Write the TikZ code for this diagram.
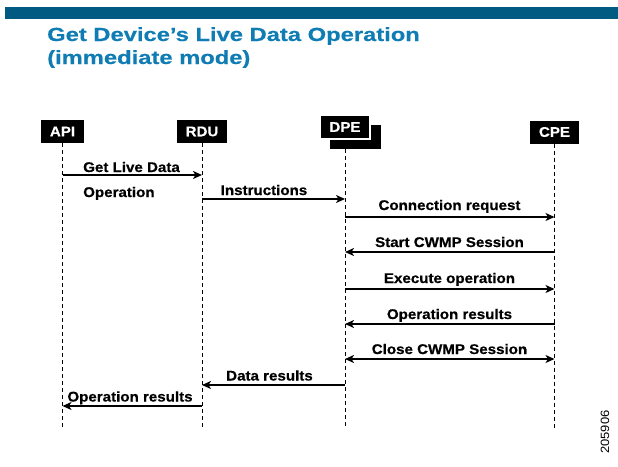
\documentclass[tikz,border=0pt]{standalone}
\usepackage{fontspec}
\setmainfont{Liberation Sans}[FakeStretch=1.08,BoldFeatures={FakeBold=0.5}]
\newfontfamily\titlefont{Liberation Sans}[FakeStretch=1.25,BoldFeatures={FakeBold=0.4}]
\usetikzlibrary{arrows.meta}
\definecolor{barblue}{RGB}{0,90,130}
\definecolor{titleblue}{RGB}{16,124,180}
\begin{document}
\begin{tikzpicture}[x=1pt,y=-1pt,
  actor/.style={fill=black,text=white,font=\bfseries\fontsize{14}{14}\selectfont,inner sep=0pt,minimum width=#1,minimum height=23pt},
  lifeline/.style={dash pattern=on 4pt off 3pt,line width=0.9pt},
  msg/.style={-{Stealth[length=9pt,width=8pt,inset=2.5pt]},line width=1.5pt},
  dmsg/.style={{Stealth[length=9pt,width=8pt,inset=2.5pt]}-{Stealth[length=9pt,width=8pt,inset=2.5pt]},line width=1.5pt},
  lbl/.style={font=\bfseries\fontsize{14}{14}\selectfont,anchor=base,inner sep=0pt},
  ttl/.style={font=\titlefont\bfseries\fontsize{19}{19}\selectfont,text=titleblue,anchor=base west,inner sep=0pt}]
\useasboundingbox (0,0) rectangle (618,466);
\fill[barblue] (5,6.5) rectangle (618,18.5);
\node[ttl] (t1) at (47,41) {Get Device’s Live Data Operation};
\node[ttl] (t2) at (47,64) {(immediate mode)};
% actors
\node[actor=43pt] (api) at (62.5,131.5) {API};
\node[actor=50pt] (rdu) at (202,131.5) {RDU};
\node[actor=51pt,minimum height=24pt] (dpeb) at (355.5,137) {};
\node[actor=50pt,minimum height=24pt,draw=white,line width=1.2pt] (dpe) at (345,127) {DPE};
\node[actor=49pt] (cpe) at (554.5,132) {CPE};
% lifelines
\coordinate (bot) at (0,428);
\draw[lifeline] (api.south) -- (api |- bot);
\draw[lifeline] (rdu.south) -- (rdu |- bot);
\draw[lifeline] (dpeb.south -| dpe) -- (dpe |- bot);
\draw[lifeline] (cpe.south) -- (cpe |- bot);
% message rows
\coordinate (m1) at (0,175);
\coordinate (m2) at (0,199);
\coordinate (m3) at (0,217);
\coordinate (m4) at (0,252);
\coordinate (m5) at (0,289);
\coordinate (m6) at (0,324);
\coordinate (m7) at (0,359);
\coordinate (m8) at (0,385);
\coordinate (m9) at (0,406);
\draw[msg] (api |- m1) -- (rdu |- m1);
\draw[msg] (rdu |- m2) -- (dpe |- m2);
\draw[msg] (dpe |- m3) -- (cpe |- m3);
\draw[msg] (cpe |- m4) -- (dpe |- m4);
\draw[msg] (dpe |- m5) -- (cpe |- m5);
\draw[msg] (cpe |- m6) -- (dpe |- m6);
\draw[dmsg] (dpe |- m7) -- (cpe |- m7);
\draw[msg] (dpe |- m8) -- (rdu |- m8);
\draw[msg] (rdu |- m9) -- (api |- m9);
% labels
\node[lbl,anchor=base west] (l1a) at (83,172) {Get Live Data};
\node[lbl,anchor=base west] (l1b) at (83,197) {Operation};
\node[lbl] (l2) at (264,195) {Instructions};
\node[lbl] (l3) at (449.5,210) {Connection request};
\node[lbl] (l4) at (449.5,247) {Start CWMP Session};
\node[lbl] (l5) at (449.5,283) {Execute operation};
\node[lbl] (l6) at (449.5,319) {Operation results};
\node[lbl] (l7) at (449.5,354) {Close CWMP Session};
\node[lbl] (l8) at (269.5,380.5) {Data results};
\node[lbl] (l9) at (130,401.5) {Operation results};
\node[rotate=90,font=\fontsize{12}{12}\selectfont,inner sep=0pt] (fig) at (605,432) {205906};
\end{tikzpicture}
\end{document}
